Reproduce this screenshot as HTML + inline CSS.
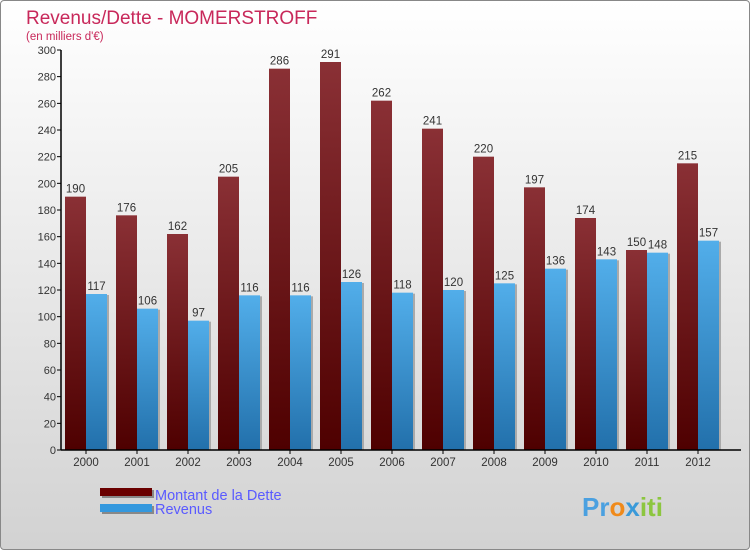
<!DOCTYPE html>
<html><head><meta charset="utf-8"><style>
body{margin:0}
#wrap{width:748px;height:548px;border:1px solid #888;border-radius:4px;background:linear-gradient(#ffffff,#d2d2d2);position:relative;overflow:hidden;font-family:"Liberation Sans",sans-serif}
</style></head><body>
<div id="wrap">
<svg width="748" height="548" viewBox="1 1 748 548" xmlns="http://www.w3.org/2000/svg">
<defs>
<linearGradient id="gd" x1="0" y1="0" x2="0" y2="1"><stop offset="0" stop-color="#8a3035"/><stop offset="1" stop-color="#4e0000"/></linearGradient>
<linearGradient id="gr" x1="0" y1="0" x2="0" y2="1"><stop offset="0" stop-color="#52aeea"/><stop offset="1" stop-color="#2270ab"/></linearGradient>
</defs>
<text x="26" y="24" font-size="19" fill="#c8285a">Revenus/Dette - MOMERSTROFF</text>
<text x="26" y="40" font-size="11.5" fill="#c8285a">(en milliers d'€)</text>
<g id="plot"></g>
<g>
<rect x="102" y="490" width="52" height="8" fill="#888"/><rect x="100" y="488" width="52" height="8" fill="#6a0000"/>
<text x="155" y="500" font-size="14.5" fill="#5a5aff">Montant de la Dette</text>
<rect x="102" y="506" width="52" height="8" fill="#888"/><rect x="100" y="504" width="52" height="8" fill="#3498de"/>
<text x="155" y="514" font-size="14.5" fill="#5a5aff">Revenus</text>
</g>
<text x="582" y="516" font-size="26" font-weight="bold" fill="#3a9ad9"><tspan fill="#4aa0e0">Pr</tspan><tspan fill="#f08a1a">o</tspan><tspan fill="#3a9ad9">x</tspan><tspan fill="#8cc63f">iti</tspan></text>
</svg>
</div>
<script>
const years=["2000","2001","2002","2003","2004","2005","2006","2007","2008","2009","2010","2011","2012"];
const dette=[190,176,162,205,286,291,262,241,220,197,174,150,215];
const revenus=[117,106,97,116,116,126,118,120,125,136,143,148,157];
const yTicks=[0,20,40,60,80,100,120,140,160,180,200,220,240,260,280,300];
const NS="http://www.w3.org/2000/svg";
const g=document.getElementById('plot');
const y0=450,yTop=50,yMax=300,x0=61,step=51,bw=21;
const Y=v=>y0-(v/yMax)*(y0-yTop);
const X=i=>x0+4+i*step;
function el(t,a,p){const e=document.createElementNS(NS,t);for(const k in a)e.setAttribute(k,a[k]);(p||g).appendChild(e);return e;}
yTicks.forEach(t=>{
  const l=el('line',{x1:x0-4,x2:x0,y1:Y(t),y2:Y(t),stroke:'#000'});
  
  
  const tx=el('text',{x:x0-5,y:Y(t)+4,'font-size':11,'text-anchor':'end',fill:'#333'});tx.textContent=t;
  
  
});
years.forEach((yr,i)=>{
  const xd=X(i),xr=xd+bw;
  el('rect',{x:xr+bw,y:Y(revenus[i])+1,width:2,height:y0-Y(revenus[i])-1,fill:'#aaa'});
  const bd=el('rect',{x:xd,y:Y(dette[i]),width:bw,height:y0-Y(dette[i]),fill:'url(#gd)'});
  
  
  const br=el('rect',{x:xr,y:Y(revenus[i]),width:bw,height:y0-Y(revenus[i]),fill:'url(#gr)'});
  
  
  const td=el('text',{x:xd+bw/2,y:Y(dette[i])-4,'font-size':11.5,'text-anchor':'middle',fill:'#333'});td.textContent=dette[i];
  
  
  const tr=el('text',{x:xr+bw/2,y:Y(revenus[i])-4,'font-size':11.5,'text-anchor':'middle',fill:'#333'});tr.textContent=revenus[i];
  
  
  const tk=el('line',{x1:xr,x2:xr,y1:y0,y2:y0+4,stroke:'#000'});
  
  
  const tl=el('text',{x:xr,y:y0+16,'font-size':11.5,'text-anchor':'middle',fill:'#333'});tl.textContent=yr;
  
  
});
const ax=el('line',{x1:x0,x2:x0,y1:yTop,y2:y0,stroke:'#000','stroke-width':1.5});


const bx=el('line',{x1:x0,x2:741,y1:y0,y2:y0,stroke:'#000','stroke-width':1.5});


</script>
</body></html>
